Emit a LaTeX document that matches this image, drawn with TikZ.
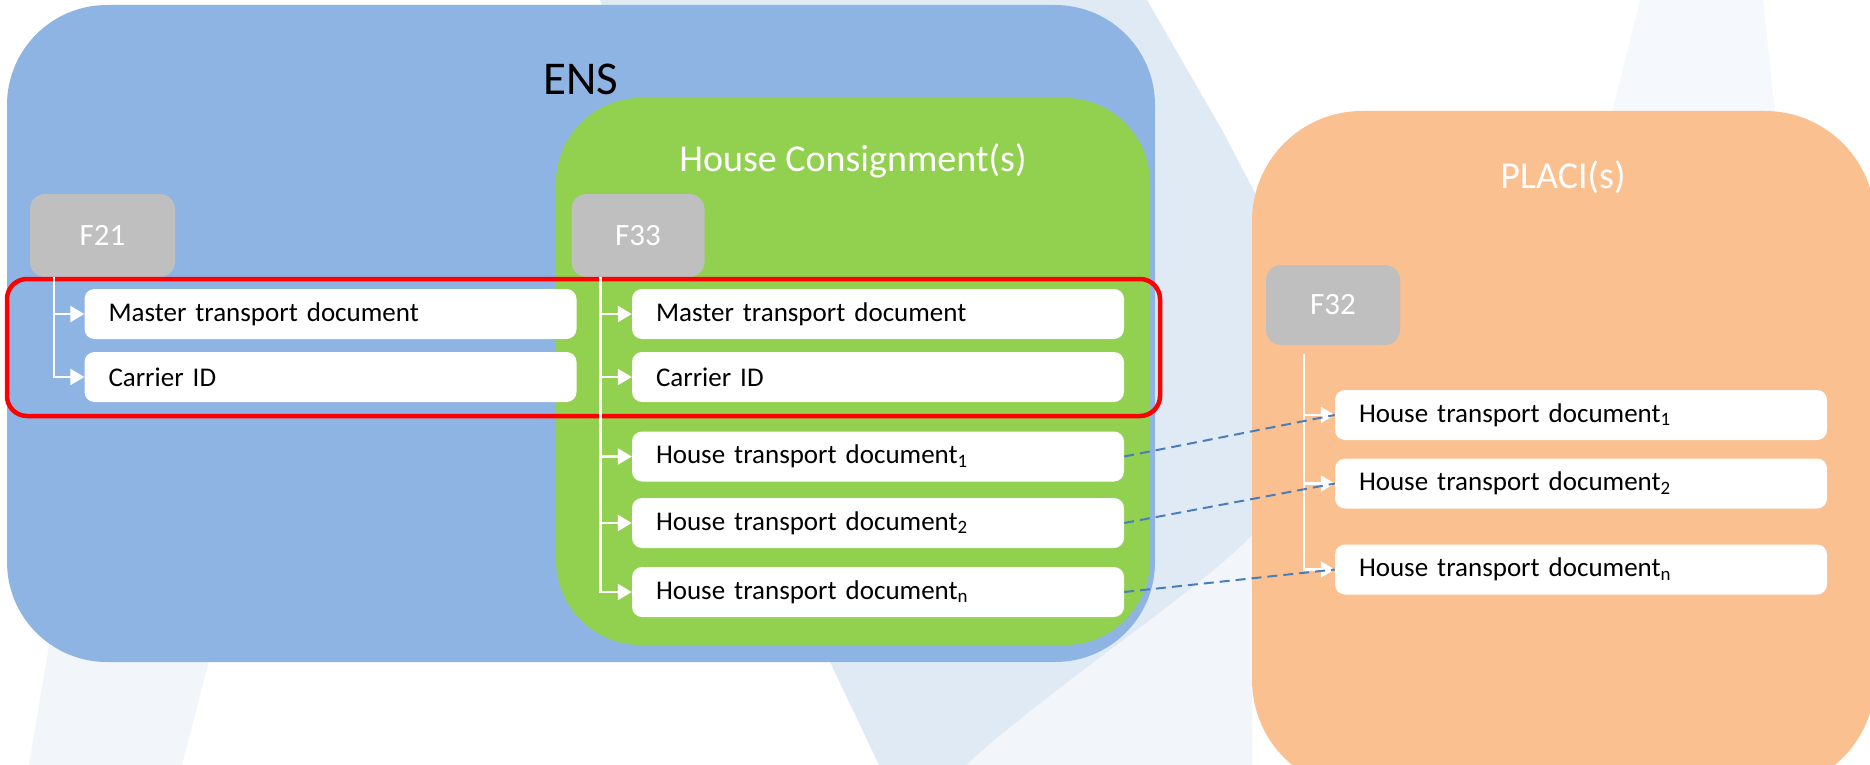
\documentclass[tikz,border=0pt]{standalone}
\usepackage{fontspec}
\setmainfont{Carlito}
\usetikzlibrary{shapes,arrows.meta,positioning}

\definecolor{ensblue}{HTML}{8EB4E3}
\definecolor{hcgreen}{HTML}{92D050}
\definecolor{placiorange}{HTML}{FAC090}
\definecolor{formgrey}{HTML}{BFBFBF}
\definecolor{linkblue}{HTML}{4A7EBB}
\definecolor{wmblue}{HTML}{E0EAF5}
\definecolor{wmpale}{HTML}{F2F6FB}
\definecolor{wmfaint}{HTML}{F5F8FC}

\tikzstyle{container} = [rectangle, inner sep=0pt]
\tikzstyle{form} = [rectangle, fill=formgrey, rounded corners=15pt, text=white,
    font=\fontsize{31}{36}\selectfont, minimum width=133pt, minimum height=83pt]
\tikzstyle{doc} = [rectangle, fill=white, rounded corners=10pt, text width=444pt,
    inner xsep=24pt, inner ysep=0pt, minimum height=50pt, align=left,
    font=\fontsize{27}{32}\selectfont]
\tikzstyle{title} = [text=white, font=\fontsize{38}{44}\selectfont, anchor=base]
\tikzstyle{highlight} = [rectangle, draw=red, line width=4.5pt, rounded corners=20pt]
\tikzstyle{branch} = [draw=white, line width=2.5pt, -{Triangle[length=14pt,width=16pt]}]
\tikzstyle{link} = [draw=linkblue, line width=2pt, dash pattern=on 10pt off 6pt]

\begin{document}
\begin{tikzpicture}[x=1pt, y=-1pt]
    \useasboundingbox (0,0) rectangle (1870,765);
    % Background swooshes
    \fill [white] (0,0) rectangle (1870,765);
    \fill [wmpale] (60,580) -- (230,580) -- (182,765) -- (29,765) -- cycle;
    \fill [wmfaint] (1640,0) -- (1763,0) -- (1778,140) -- (1605,140) -- cycle;
    \fill [wmpale] (1252,520) -- (1252,765) -- (966,765) -- cycle;
    \fill [wmblue] (600,0) -- (1147,0) -- (1222,130) -- (1290,260) -- (1290,500)
        -- (1252,535) .. controls (1200,590) and (1060,680) .. (966,765)
        -- (879,765) -- (810,620) -- cycle;
    % Place containers
    \node [container, fill=ensblue, rounded corners=100pt,
        minimum width=1148pt, minimum height=657pt] (ens) at (581,333.5) {};
    \node [container, fill=hcgreen, rounded corners=85pt,
        minimum width=594pt, minimum height=547pt] (hc) at (853,371.5) {};
    \node [container, fill=placiorange, rounded corners=110pt,
        minimum width=623pt, minimum height=679pt] (placi) at (1563.5,450.5) {};
    \node [title, text=black, font=\fontsize{47}{54}\selectfont] (enstitle) at (581,95) {ENS};
    \node [title] (hctitle) at (853,171) {House Consignment(s)};
    \node [title] (placititle) at (1563,188) {PLACI(s)};
    % Place forms
    \node [form, minimum width=145pt] (f21) at (102.5,235.5) {F21};
    \node [form] (f33) at (638,235.5) {F33};
    \node [form, minimum width=134pt, minimum height=80pt] (f32) at (1333,305) {F32};
    % Place documents
    \node [doc] (mtdA) at (330.5,314) {Master transport document};
    \node [doc, below of=mtdA, node distance=63pt] (carA) {Carrier ID};
    \node [doc] (mtdB) at (878,314) {Master transport document};
    \node [doc, below of=mtdB, node distance=63pt] (carB) {Carrier ID};
    \node [doc, below of=carB, node distance=79.5pt] (htdB1) {House transport document\textsubscript{1}};
    \node [doc, below of=htdB1, node distance=66.5pt] (htdB2) {House transport document\textsubscript{2}};
    \node [doc, below of=htdB2, node distance=69pt] (htdBn) {House transport document\textsubscript{n}};
    \node [doc] (htdC1) at (1581,415) {House transport document\textsubscript{1}};
    \node [doc, below of=htdC1, node distance=68.5pt] (htdC2) {House transport document\textsubscript{2}};
    \node [doc, below of=htdC2, node distance=86pt] (htdCn) {House transport document\textsubscript{n}};
    \node [highlight, minimum width=1153pt, minimum height=137pt] (sel) at (583.5,347.5) {};
    % Draw edges
    \path [branch] ([xshift=24pt]f21.south west) |- (mtdA.west);
    \path [branch] ([xshift=24pt]f21.south west) |- (carA.west);
    \path [branch] ([xshift=29pt]f33.south west) |- (mtdB.west);
    \path [branch] ([xshift=29pt]f33.south west) |- (carB.west);
    \path [branch] ([xshift=29pt]f33.south west) |- (htdB1.west);
    \path [branch] ([xshift=29pt]f33.south west) |- (htdB2.west);
    \path [branch] ([xshift=29pt]f33.south west) |- (htdBn.west);
    \path [branch] ([xshift=38pt,yshift=-9pt]f32.south west) |- (htdC1.west);
    \path [branch] ([xshift=38pt,yshift=-9pt]f32.south west) |- (htdC2.west);
    \path [branch] ([xshift=38pt,yshift=-9pt]f32.south west) |- (htdCn.west);
    \path [link] (htdB1.east) -- (htdC1.west);
    \path [link] (htdB2.east) -- (htdC2.west);
    \path [link] (htdBn.east) -- (htdCn.west);
\end{tikzpicture}
\end{document}
